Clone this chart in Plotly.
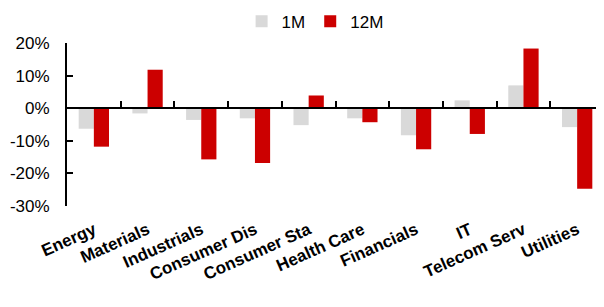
import plotly.graph_objects as go

categories = ["Energy", "Materials", "Industrials", "Consumer Dis", "Consumer Sta",
              "Health Care", "Financials", "IT", "Telecom Serv", "Utilities"]
m1 = [-6.3, -1.6, -3.6, -3.1, -5.2, -3.1, -8.3, 2.4, 7.0, -5.8]
m12 = [-11.8, 11.8, -15.7, -16.8, 3.9, -4.3, -12.6, -7.9, 18.3, -24.7]
y_ticks = [-30, -20, -10, 0, 10, 20]
y_tick_labels = [f"{v}%" for v in y_ticks]

FONT = "Liberation Sans, Arial, sans-serif"
ymin, ymax = min(y_ticks), max(y_ticks)

fig = go.Figure()
fig.add_bar(x=categories, y=m1, name="1M", marker_color="#D9D9D9")
fig.add_bar(x=categories, y=m12, name="12M", marker_color="#CC0000")

n = len(categories)
fig.update_layout(
    template="none",
    width=596, height=299,
    margin=dict(l=59, r=0, t=35, b=101, autoexpand=False),
    plot_bgcolor="white", paper_bgcolor="white",
    barmode="group", bargap=0.435, bargroupgap=0,
    font=dict(family=FONT, size=16, color="black"),
    legend=dict(orientation="h", x=0.462, xanchor="center", y=1.13, yanchor="middle",
                font=dict(size=17), itemwidth=30, traceorder="normal"),
    xaxis=dict(type="category", range=[-0.5, n - 0.5], showline=False, ticks="",
               tickangle=-24, showgrid=False, zeroline=False, automargin=False,
               tickmode="array", tickvals=categories, ticklabelstandoff=10,
               ticktext=[f"<b>{c}</b>" for c in categories],
               tickfont=dict(family=FONT, size=17, color="black")),
    xaxis2=dict(overlaying="x", anchor="free", position=(0 - ymin) / (ymax - ymin),
                range=[-0.5, n - 0.5], showline=True, linecolor="#000000", linewidth=2,
                ticks="inside", ticklen=6, tickwidth=2, tickcolor="#000000",
                tickmode="array", tickvals=[i + 0.5 for i in range(n - 1)],
                showticklabels=False, showgrid=False, zeroline=False, automargin=False),
    yaxis=dict(range=[ymin, ymax], tickmode="array", tickvals=y_ticks,
               ticktext=y_tick_labels, showline=True,
               linecolor="#000000", linewidth=2, ticks="inside", ticklen=6,
               tickwidth=2, tickcolor="#000000", showgrid=False, zeroline=False,
               ticklabelstandoff=12, automargin=False, tickfont=dict(size=17)),
)
fig.add_scatter(x=[0], y=[0], xaxis="x2", yaxis="y", mode="markers",
                marker=dict(opacity=0), showlegend=False, hoverinfo="skip")
fig.write_html("out.html")
